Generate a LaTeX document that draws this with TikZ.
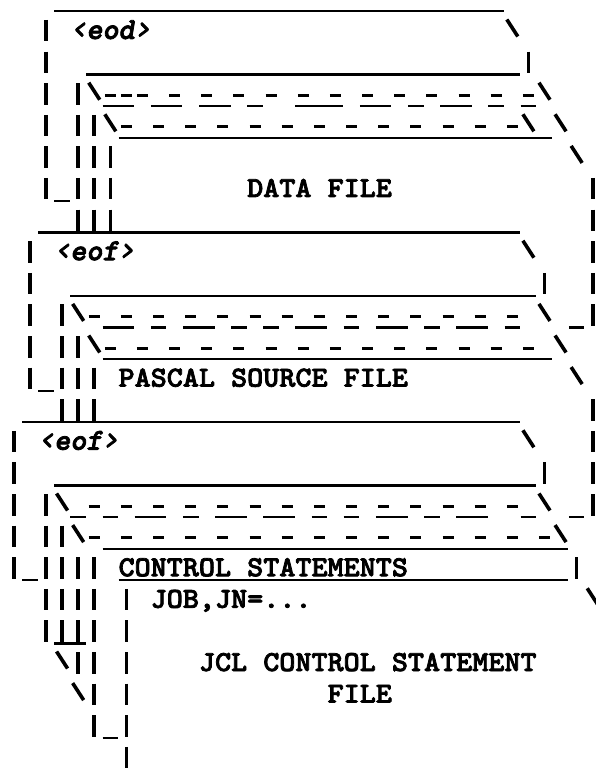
\documentclass[tikz,border=0pt]{standalone}
\usepackage{fontspec}
% typewriter faces, stretched so one character cell is 16.08 units wide
\newfontfamily\typefont{lmmonolt10-bold.otf}[FakeStretch=1.056,FakeBold=2.6]
\newfontfamily\typeslant{lmmonolt10-boldoblique.otf}[FakeStretch=1.0,FakeBold=2.6]

% character grid: column centres and row centres
\newcommand\colx[1]{46+16.08*(#1)}
\newcommand\rowy[1]{30.5+31.6*(#1)}

\tikzset{
  pipe/.style={line width=3.6pt, line cap=butt},
  hyph/.style={line width=3pt},
  uline/.style={line width=2.2pt},
  lbl/.style={inner sep=0pt, anchor=base west, font=\typefont\fontsize{29}{31}\selectfont},
  tag/.style={inner sep=0pt, anchor=base west, font=\typeslant\fontsize{30.6}{32}\selectfont}
}
% one glyph per grid cell
\newcommand\Vpipe[2]{\draw[pipe] ({\colx{#1}},{\rowy{#2}-10.5}) -- ++(0,21.5);}
\newcommand\Bslash[2]{\draw[pipe] ({\colx{#1}-5.5},{\rowy{#2}-11}) -- ++(11,17);}
\newcommand\Hyph[2]{\draw[hyph] ({\colx{#1}-5.5},{\rowy{#2}+1.5}) -- ++(11,0);}
% a run of underscores from column #1 to column #2 in row #3
\newcommand\Uline[3]{\draw[uline] ({\colx{#1}-7.8},{\rowy{#3}+12.5}) -- ({\colx{#2}+7.8},{\rowy{#3}+12.5});}

\begin{document}
\begin{tikzpicture}[x=1pt,y=-1pt]
\useasboundingbox (0,0) rectangle (595,775);
\fill[white] (0,0) rectangle (595,775);

% ---------------- DATA FILE ----------------
\Uline{1}{28}{-1}
\Vpipe{0}{0}
\node[tag] (eod) at ({\colx{2}-8.04},{\rowy{0}+8.5}) {‹eod›};
\Bslash{29}{0}
\Vpipe{0}{1} \Uline{3}{29}{1} \Vpipe{30}{1}
\Vpipe{0}{2} \Vpipe{2}{2} \Bslash{3}{2}
\foreach \c in {4,5,6,8,10,...,30} {\Hyph{\c}{2}}
\foreach \a/\b in {4/5,7/8,10/11,13/13,16/18,20/21,23/23,25/26,28/28,30/30} {\Uline{\a}{\b}{2}}
\Bslash{31}{2}
\Vpipe{0}{3} \Vpipe{2}{3} \Vpipe{3}{3} \Bslash{4}{3}
\foreach \c in {5,7,...,29} {\Hyph{\c}{3}}
\Bslash{30}{3} \Bslash{32}{3} \Uline{5}{31}{3}
\Vpipe{0}{4} \Vpipe{2}{4} \Vpipe{3}{4} \Vpipe{4}{4} \Bslash{33}{4}
\Vpipe{0}{5} \Uline{1}{1}{5} \Vpipe{2}{5} \Vpipe{3}{5} \Vpipe{4}{5}
\node[lbl] (data) at ({\colx{13}-8.04},{\rowy{5}+8.5}) {DATA FILE};
\Vpipe{34}{5}
\Vpipe{2}{6} \Vpipe{3}{6} \Vpipe{4}{6} \Uline{0}{29}{6} \Vpipe{34}{6}

% ---------------- PASCAL SOURCE FILE ----------------
\Vpipe{-1}{7}
\node[tag] (eofa) at ({\colx{1}-8.04},{\rowy{7}+8.5}) {‹eof›};
\Bslash{30}{7} \Vpipe{34}{7}
\Vpipe{-1}{8} \Uline{2}{30}{8} \Vpipe{31}{8} \Vpipe{34}{8}
\Vpipe{-1}{9} \Vpipe{1}{9} \Bslash{2}{9}
\foreach \c in {3,5,...,29} {\Hyph{\c}{9}}
\foreach \a/\b in {4/5,7/7,9/10,12/12,14/14,16/17,19/19,21/22,24/24,26/27,29/29} {\Uline{\a}{\b}{9}}
\Bslash{31}{9} \Uline{33}{33}{9} \Vpipe{34}{9}
\Vpipe{-1}{10} \Vpipe{1}{10} \Vpipe{2}{10} \Bslash{3}{10}
\foreach \c in {4,6,...,30} {\Hyph{\c}{10}}
\Bslash{32}{10} \Uline{4}{31}{10}
\Vpipe{-1}{11} \Uline{0}{0}{11} \Vpipe{1}{11} \Vpipe{2}{11} \Vpipe{3}{11}
\node[lbl] (pascal) at ({\colx{5}-8.04},{\rowy{11}+8.5}) {PASCAL SOURCE FILE};
\Bslash{33}{11}
\Vpipe{1}{12} \Vpipe{2}{12} \Vpipe{3}{12} \Uline{-1}{29}{12} \Vpipe{34}{12}

% ---------------- JCL CONTROL STATEMENT FILE ----------------
\Vpipe{-2}{13}
\node[tag] (eofb) at ({\colx{0}-8.04},{\rowy{13}+8.5}) {‹eof›};
\Bslash{30}{13} \Vpipe{34}{13}
\Vpipe{-2}{14} \Uline{1}{30}{14} \Vpipe{31}{14} \Vpipe{34}{14}
\Vpipe{-2}{15} \Vpipe{0}{15} \Bslash{1}{15}
\foreach \c in {3,5,...,29} {\Hyph{\c}{15}}
\foreach \a/\b in {2/2,4/4,6/7,9/9,11/12,14/15,17/17,19/19,21/22,24/24,26/27,30/30} {\Uline{\a}{\b}{15}}
\Bslash{31}{15} \Uline{33}{33}{15} \Vpipe{34}{15}
\Vpipe{-2}{16} \Vpipe{0}{16} \Vpipe{1}{16} \Bslash{2}{16}
\foreach \c in {3,5,...,31} {\Hyph{\c}{16}}
\Bslash{32}{16} \Uline{4}{32}{16}
\Vpipe{-2}{17} \Uline{-1}{-1}{17} \Vpipe{0}{17} \Vpipe{1}{17} \Vpipe{2}{17} \Vpipe{3}{17}
\node[lbl] (ctrl) at ({\colx{5}-8.04},{\rowy{17}+8.5}) {CONTROL STATEMENTS};
\Uline{5}{32}{17} \Vpipe{33}{17}
\Vpipe{0}{18} \Vpipe{1}{18} \Vpipe{2}{18} \Vpipe{3}{18} \Vpipe{5}{18}
\node[lbl] (job) at ({\colx{7}-8.04},{\rowy{18}+8.5}) {JOB,JN=...};
\Bslash{34}{18}
\Vpipe{0}{19} \Vpipe{1}{19} \Vpipe{2}{19} \Vpipe{3}{19} \Uline{1}{2}{19} \Vpipe{5}{19}
\Bslash{1}{20} \Vpipe{2}{20} \Vpipe{3}{20} \Vpipe{5}{20}
\node[lbl] (jcl) at ({\colx{10}-8.04},{\rowy{20}+8.5}) {JCL CONTROL STATEMENT};
\Bslash{2}{21} \Vpipe{3}{21} \Vpipe{5}{21}
\node[lbl] (jclfile) at ({\colx{18}-8.04},{\rowy{21}+8.5}) {FILE};
\Vpipe{3}{22} \Uline{4}{4}{22} \Vpipe{5}{22}
\Vpipe{5}{23}
\end{tikzpicture}
\end{document}
